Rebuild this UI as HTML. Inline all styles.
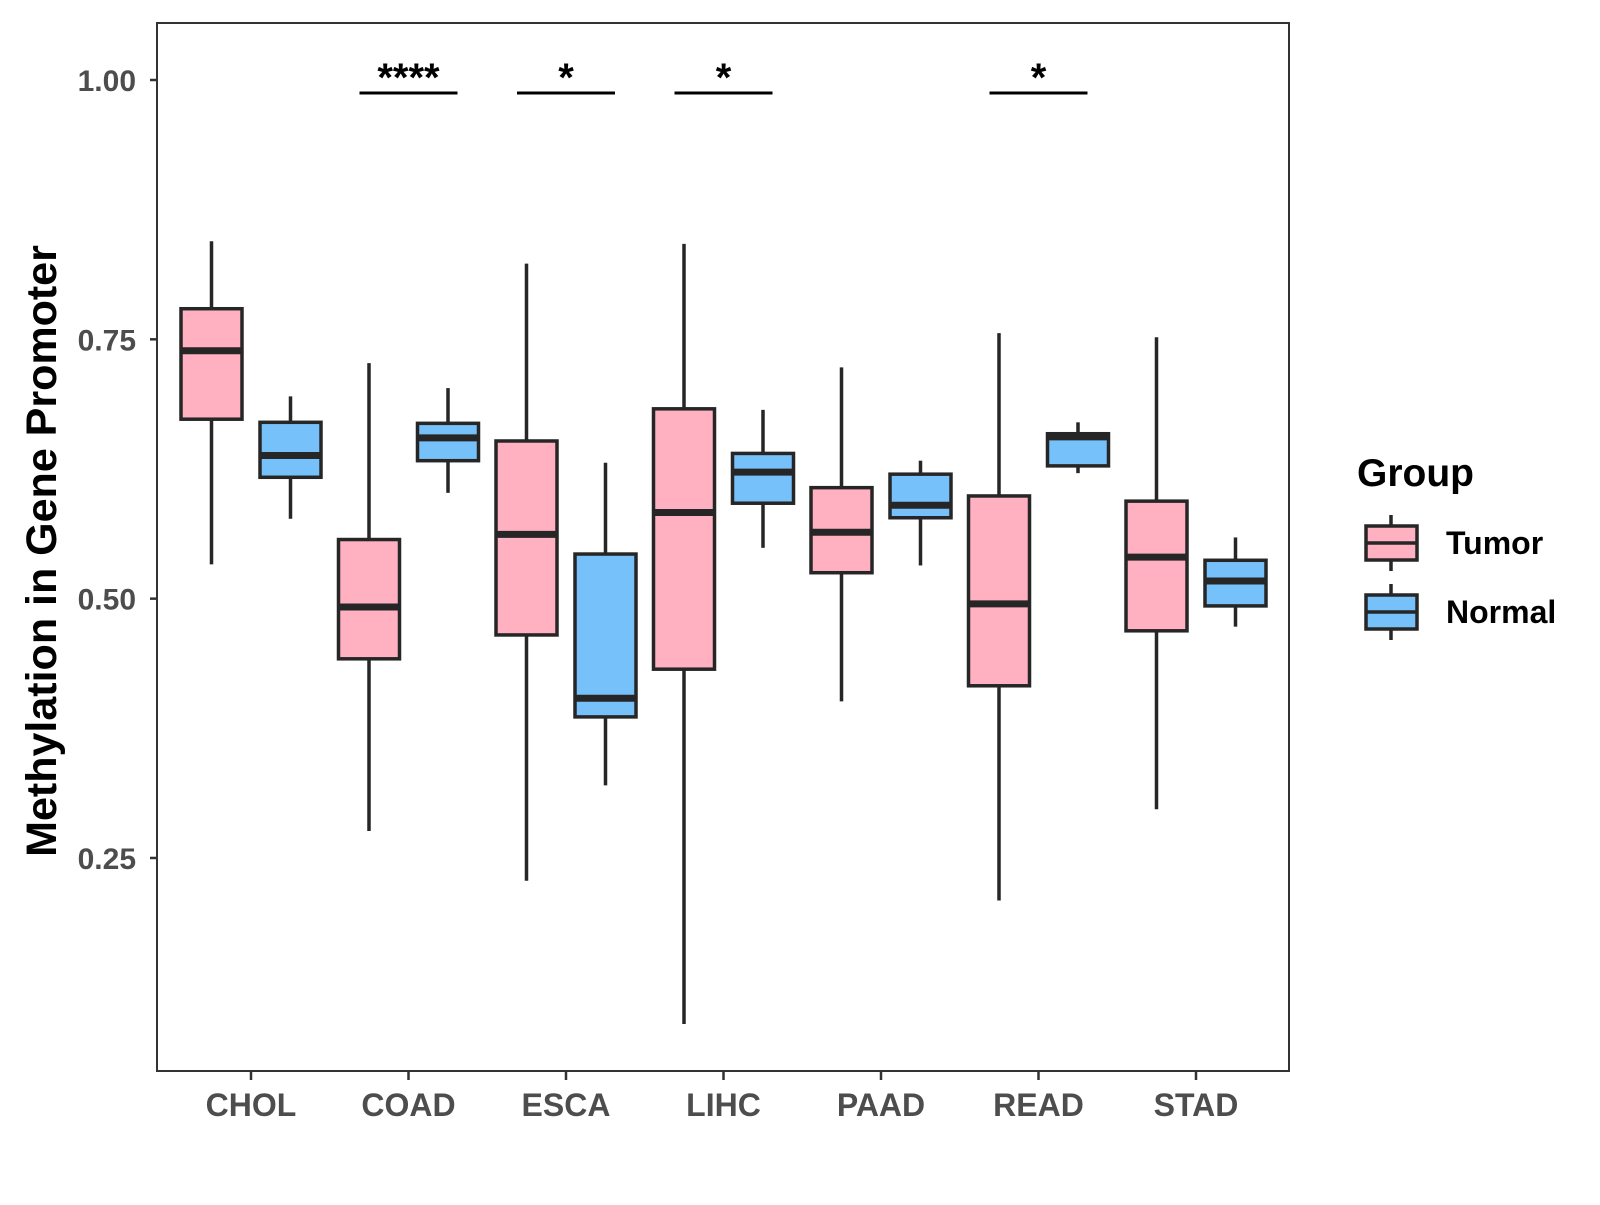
<!DOCTYPE html>
<html><head><meta charset="utf-8"><style>
body{margin:0;background:#fff}
svg text{font-family:"Liberation Sans",Arial,sans-serif;font-weight:bold}
</style></head><body>
<svg id="chart" width="1600" height="1200" viewBox="0 0 1600 1200" xmlns="http://www.w3.org/2000/svg">
<rect width="1600" height="1200" fill="#fff"/>
<g id="plot"></g>
</svg>
<script>
const categories=["CHOL","COAD","ESCA","LIHC","PAAD","READ","STAD"];
// [low, q1, median, q3, high]
const tumorStats=[[0.533,0.673,0.739,0.7795,0.8445],[0.276,0.442,0.492,0.557,0.727],[0.228,0.465,0.562,0.652,0.823],[0.090,0.432,0.583,0.683,0.842],[0.401,0.525,0.564,0.607,0.723],[0.209,0.416,0.495,0.599,0.756],[0.297,0.469,0.540,0.594,0.752]];
const normalStats=[[0.577,0.617,0.638,0.670,0.695],[0.602,0.633,0.655,0.669,0.703],[0.320,0.386,0.404,0.543,0.631],[0.549,0.592,0.622,0.640,0.682],[0.532,0.578,0.590,0.620,0.633],[0.621,0.628,0.656,0.659,0.670],[0.473,0.493,0.517,0.537,0.559]];
const sigLabels=["","****","*","*","","*",""];
const yTicks=[0.25,0.50,0.75,1.00];
const yTickLabels=["0.25","0.50","0.75","1.00"];

const NS="http://www.w3.org/2000/svg";
const L=157,R=1289,T=23,B=1071;
const y=v=>80+(1-v)*1037.3;
const x=i=>251+i*157.5;
const g=document.getElementById('plot');
function mk(tag,a,parent){const e=document.createElementNS(NS,tag);for(const k in a)e.setAttribute(k,a[k]);(parent||g).appendChild(e);return e;}

const frame=mk('rect',{x:L,y:T,width:R-L,height:B-T,fill:'none',stroke:'#333',"stroke-width":2});



yTicks.forEach((v,i)=>{
  const t=mk('line',{x1:L-7,x2:L,y1:y(v),y2:y(v),stroke:'#333',"stroke-width":2.5});
  
  
  const tx=mk('text',{x:L-21,y:y(v)+11,"text-anchor":"end","font-size":30,fill:'#4d4d4d'});
  tx.textContent=yTickLabels[i];
  
  
});
categories.forEach((c,i)=>{
  const t=mk('line',{x1:x(i),x2:x(i),y1:B,y2:B+9,stroke:'#333',"stroke-width":2.5});
  
  
  const tx=mk('text',{x:x(i),y:B+45,"text-anchor":"middle","font-size":32,fill:'#4d4d4d'});
  tx.textContent=c;
  
  
});

function box(cx,s,fill,name){
  const grp=mk('g',{});
  
  
  const w=30.5;
  mk('line',{x1:cx,x2:cx,y1:y(s[4]),y2:y(s[3]),stroke:'#262626',"stroke-width":3.5},grp);
  mk('line',{x1:cx,x2:cx,y1:y(s[1]),y2:y(s[0]),stroke:'#262626',"stroke-width":3.5},grp);
  mk('rect',{x:cx-w,y:y(s[3]),width:2*w,height:y(s[1])-y(s[3]),fill:fill,stroke:'#262626',"stroke-width":3.5},grp);
  mk('line',{x1:cx-w,x2:cx+w,y1:y(s[2]),y2:y(s[2]),stroke:'#262626',"stroke-width":7},grp);
}
categories.forEach((c,i)=>{
  box(x(i)-39.5,tumorStats[i],'#FFB0C1','box-tumor-'+c.toLowerCase());
  box(x(i)+39.5,normalStats[i],'#76C1FA','box-normal-'+c.toLowerCase());
  if(sigLabels[i]){
    const l=mk('line',{x1:x(i)-49,x2:x(i)+49,y1:93,y2:93,stroke:'#000',"stroke-width":3});
    
    
    const t=mk('text',{x:x(i),y:91,"text-anchor":"middle","font-size":40,fill:'#000'});
    t.textContent=sigLabels[i];
    
    
  }
});

const yt=mk('text',{x:56,y:551,"text-anchor":"middle","font-size":43,fill:'#000',transform:'rotate(-90 56 551)'});
yt.textContent='Methylation in Gene Promoter';



const lt=mk('text',{x:1357,y:486,"font-size":39,fill:'#000'});
lt.textContent='Group';


[['Tumor','#FFB0C1',543],['Normal','#76C1FA',612]].forEach(([lab,f,cy])=>{
  const e=mk('g',{});
  
  
  mk('line',{x1:1391,x2:1391,y1:cy-28,y2:cy+28,stroke:'#262626',"stroke-width":3.5},e);
  mk('rect',{x:1366,y:cy-17,width:51,height:34,fill:f,stroke:'#262626',"stroke-width":3.5},e);
  mk('line',{x1:1366,x2:1417,y1:cy,y2:cy,stroke:'#262626',"stroke-width":3.5},e);
  const t=mk('text',{x:1446,y:cy+11,"font-size":32,fill:'#000'},e);
  t.textContent=lab;
});
</script>
</body></html>
